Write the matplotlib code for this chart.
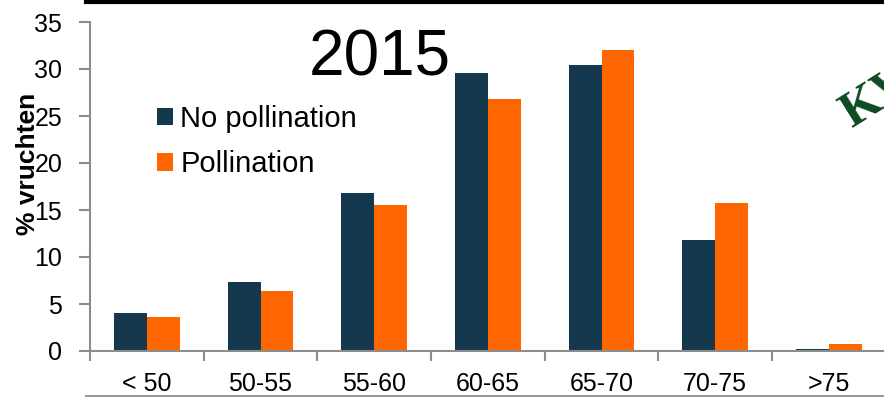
import matplotlib
matplotlib.use("Agg")
import matplotlib.pyplot as plt
import numpy as np
from matplotlib.lines import Line2D

plt.rcParams['font.family'] = ['Liberation Sans', 'DejaVu Sans']

categories = ["< 50", "50-55", "55-60", "60-65", "65-70", "70-75", ">75"]
no_pollination = [4.0, 7.3, 16.8, 29.6, 30.4, 11.8, 0.2]
pollination = [3.6, 6.4, 15.5, 26.8, 32.0, 15.7, 0.75]
yticks = [0, 5, 10, 15, 20, 25, 30, 35]

W, H = 884, 397
fig = plt.figure(figsize=(W / 100, H / 100), dpi=100)
ax_left, ax_right = 90, 885.7
ax_bottom, ax_top = 351, 22
ax = fig.add_axes([ax_left / W, 1 - ax_bottom / H, (ax_right - ax_left) / W, (ax_bottom - ax_top) / H])

x = np.arange(len(categories))
bw = 0.29
b1 = ax.bar(x - bw / 2, no_pollination, bw, color='#14394F', label='No pollination')
b2 = ax.bar(x + bw / 2, pollination, bw, color='#FF6600', label='Pollination')

ax.set_xlim(-0.5, len(categories) - 0.5)
ax.set_ylim(0, 35)
ax.set_yticks(yticks)
ax.set_yticklabels([str(t) for t in yticks], fontsize=18)
ax.set_xticks(x)
ax.set_xticklabels(categories, fontsize=18)
ax.set_xticks(np.arange(-0.5, len(categories), 1.0), minor=True)
ax.tick_params(axis='x', which='major', length=0, pad=15)
ax.tick_params(axis='x', which='minor', length=7, width=1.5, color='#8c8c8c', direction='out')
ax.tick_params(axis='y', which='major', length=8, width=1.5, color='#8c8c8c', pad=12, direction='out')

for s in ['top', 'right']:
    ax.spines[s].set_visible(False)
for s in ['left', 'bottom']:
    ax.spines[s].set_color('#8c8c8c')
    ax.spines[s].set_linewidth(1.5)

fig.text(28 / W, 1 - 164 / H, '% vruchten', rotation=90, fontsize=19, fontweight='bold',
         ha='center', va='center')

ax.legend(handles=[b1, b2], loc='upper left', bbox_to_anchor=(157 / W, 1 - 105 / H),
          bbox_transform=fig.transFigure, frameon=False, fontsize=21,
          handlelength=0.55, handleheight=0.55, handletextpad=0.25,
          labelspacing=0.6, borderpad=0, borderaxespad=0)

fig.text(380 / W, 1 - 75 / H, '2015', fontsize=46, ha='center', va='baseline')

fig.text(852 / W, 1 - 128 / H, 'KWS', fontsize=36, color='#0D4A22', family='Liberation Serif',
         fontweight='bold', rotation=32, rotation_mode='anchor', ha='left', va='baseline')

fig.add_artist(Line2D([86 / W, 1], [1 - 2 / H, 1 - 2 / H], color='black', linewidth=3, transform=fig.transFigure))
fig.add_artist(Line2D([86 / W, 1], [1.2 / H, 1.2 / H], color='#9a9a9a', linewidth=1.5, transform=fig.transFigure))

fig.savefig('out.png', dpi=100)
